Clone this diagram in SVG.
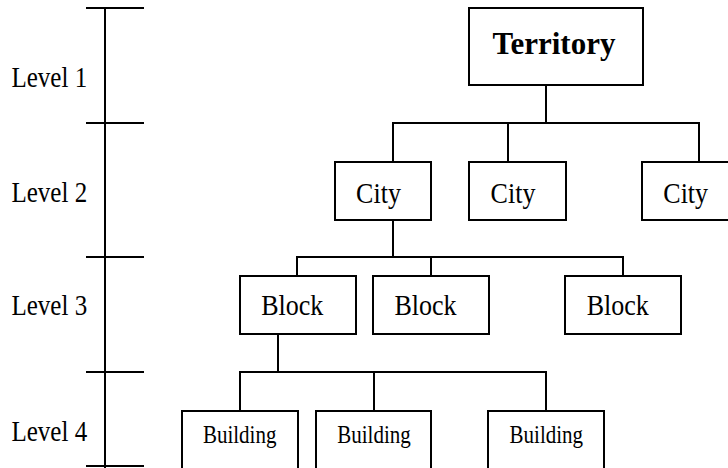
<svg xmlns="http://www.w3.org/2000/svg" width="728" height="468" viewBox="0 0 728 468">
<style>
.box{fill:#fff;stroke:#000;stroke-width:2}
.ln{stroke:#000;stroke-width:2;fill:none}
.t{font-family:"Liberation Serif","Times New Roman",serif;fill:#000}
.c{text-anchor:middle}
.lvl{font-size:25px}
.big{font-size:31px;font-weight:bold}
.mid{font-size:26px}
.sm{font-size:21px}
</style>
<rect width="728" height="468" fill="#fff"/>
<g id="scale">
<path class="ln" d="M105 8V468M86 8H144M86 123H144M86 257H144M86 372H144M86 466H144"/>
<text class="t lvl" transform="translate(11.5 86.7) scale(1 1.16)">Level 1</text>
<text class="t lvl" transform="translate(11.5 201.6) scale(1 1.16)">Level 2</text>
<text class="t lvl" transform="translate(11.5 315) scale(1 1.16)">Level 3</text>
<text class="t lvl" transform="translate(11.5 441) scale(1 1.16)">Level 4</text>
</g>
<g id="connectors">
<path class="ln" d="M546 85V123M393 162V123H699V162M508 123V162"/>
<path class="ln" d="M393 220V257M297 276V257H623V276M431 257V276"/>
<path class="ln" d="M278 334V372M240 411V372H546V411M374 372V411"/>
</g>
<g id="territory"><rect class="box" x="469" y="8" width="174" height="77"/><text class="t big c" x="554" y="53.5">Territory</text></g>
<g id="city1"><rect class="box" x="335" y="162" width="96" height="58"/><text class="t mid c" transform="translate(378.5 202.7) scale(1 1.12)">City</text></g>
<g id="city2"><rect class="box" x="469" y="162" width="97" height="58"/><text class="t mid c" transform="translate(513 202.7) scale(1 1.12)">City</text></g>
<g id="city3"><rect class="box" x="642" y="162" width="96" height="58"/><text class="t mid c" transform="translate(685.7 202.7) scale(1 1.12)">City</text></g>
<g id="block1"><rect class="box" x="240" y="276" width="116" height="58"/><text class="t mid c" transform="translate(292.3 315) scale(1 1.12)">Block</text></g>
<g id="block2"><rect class="box" x="373" y="276" width="116" height="58"/><text class="t mid c" transform="translate(425.5 315) scale(1 1.12)">Block</text></g>
<g id="block3"><rect class="box" x="565" y="276" width="116" height="58"/><text class="t mid c" transform="translate(617.8 315) scale(1 1.12)">Block</text></g>
<g id="building1"><rect class="box" x="182" y="411" width="116" height="70"/><text class="t sm c" transform="translate(239.7 443.3) scale(1 1.16)">Building</text></g>
<g id="building2"><rect class="box" x="316" y="411" width="115" height="70"/><text class="t sm c" transform="translate(374 443.3) scale(1 1.16)">Building</text></g>
<g id="building3"><rect class="box" x="488" y="411" width="116" height="70"/><text class="t sm c" transform="translate(546.3 443.3) scale(1 1.16)">Building</text></g>
</svg>
